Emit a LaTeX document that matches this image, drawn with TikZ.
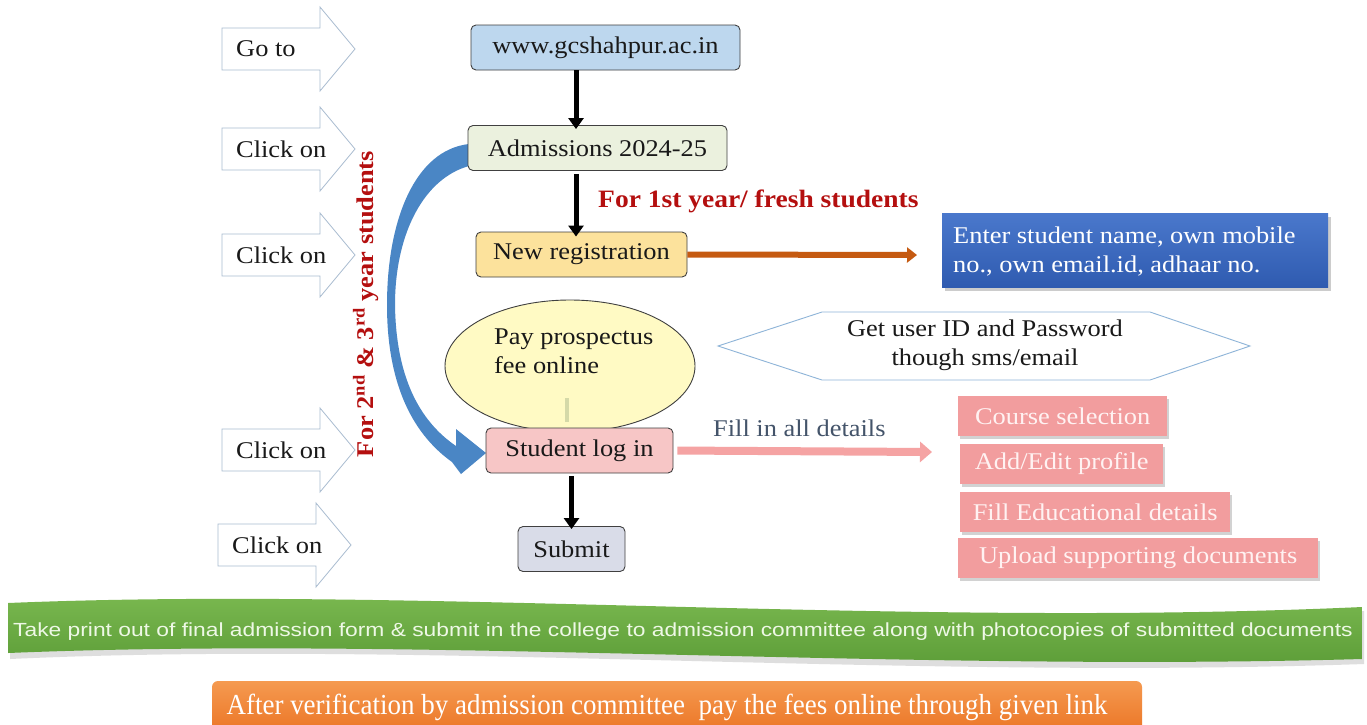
\documentclass[tikz,border=0pt]{standalone}
\usepackage{fontspec}
\setmainfont[FakeStretch=1.1]{Liberation Serif}
\newfontfamily\widesans[FakeStretch=1.2]{Liberation Sans}
\newfontfamily\narrowserif[FakeStretch=0.93]{Liberation Serif}
\usetikzlibrary{arrows.meta,shapes.geometric,shadows}
\definecolor{urlblue}{HTML}{BDD7EE}
\definecolor{admgreen}{HTML}{EBF1DE}
\definecolor{regorange}{HTML}{FCE29C}
\definecolor{elyellow}{HTML}{FFFAC4}
\definecolor{loginpink}{HTML}{F7C6C6}
\definecolor{submitgray}{HTML}{D9DCE8}
\definecolor{darkred}{HTML}{B40F0F}
\definecolor{arrorange}{HTML}{C55A11}
\definecolor{boxbluetop}{HTML}{4A78CC}
\definecolor{boxbluebot}{HTML}{2F5BB0}
\definecolor{hexline}{HTML}{8EB4D8}
\definecolor{filltext}{HTML}{44546A}
\definecolor{salmon}{HTML}{F5A3A3}
\definecolor{pinkbox}{HTML}{F29D9E}
\definecolor{pinktext}{HTML}{FFF2F2}
\definecolor{curveblue}{HTML}{4A86C5}
\definecolor{greentop}{HTML}{7DBB52}
\definecolor{greenbot}{HTML}{5A9B36}
\definecolor{greentext}{HTML}{EEF8E6}
\definecolor{orangetop}{HTML}{F59A50}
\definecolor{orangebot}{HTML}{EA7020}
\definecolor{navline}{HTML}{A9BCD0}
\definecolor{faintbar}{HTML}{D5D9A8}
\tikzset{
  base/.style={font=\fontsize{24}{29}\selectfont, text=black!90},
  mainbox/.style={base, draw=black!75, rounded corners=5pt, line width=0.9pt, inner sep=0pt, minimum height=45pt},
  navarrow/.style={draw=navline, line width=0.8pt, fill=white},
  navtext/.style={base, inner sep=0pt},
  blackarrow/.style={line width=5pt, -{Triangle[length=11pt,width=15pt]}},
  orangearrow/.style={draw=arrorange, line width=6pt, -{Triangle[length=10pt,width=15pt]}},
  pinkarrow/.style={draw=salmon, line width=8pt, -{Triangle[length=12pt,width=20pt]}},
  pinkitem/.style={base, text=pinktext, fill=pinkbox, inner sep=0pt, minimum height=40pt, anchor=west,
    drop shadow={opacity=0.35, shadow xshift=2pt, shadow yshift=-3pt}},
  redlabel/.style={font=\bfseries\fontsize{24}{29}\selectfont, text=darkred, inner sep=0pt}
}
\newcommand{\navblock}[4]{%
  \draw[navarrow] (#2,#3-21) -- (#2+98,#3-21) -- (#2+98,#3-42) -- (#2+133,#3) -- (#2+98,#3+42) -- (#2+98,#3+21) -- (#2,#3+21) -- cycle;
  \node[navtext, anchor=west] (#1) at (#2+14,#3) {#4};}
\begin{document}
\begin{tikzpicture}[x=1pt, y=-1pt]
\useasboundingbox (0,0) rectangle (1367,724);
\fill[white] (0,0) rectangle (1367,724);

% left navigation arrows
\navblock{goto}{222}{49}{Go to}
\navblock{click1}{222}{149}{Click on}
\navblock{click2}{222}{255}{Click on}
\navblock{click3}{222}{450}{Click on}
\navblock{click4}{218}{545}{Click on}

% curved blue arrow
\fill[curveblue] (469,144) .. controls (415,150) and (387,220) .. (387,305)
  .. controls (387,380) and (410,432) .. (452,462) -- (461,474) -- (486,453) -- (456,429) -- (456,446)
  .. controls (418,420) and (396,375) .. (395,305)
  .. controls (395,232) and (425,178) .. (469,166) -- cycle;

% vertical label
\node[redlabel, rotate=90] (older) at (366,304) {For 2\textsuperscript{nd} \& 3\textsuperscript{rd} year students};

% main flow
\node[mainbox, fill=urlblue, minimum width=269pt] (url) at (605.5,47.5) {www.gcshahpur.ac.in};
\node[mainbox, fill=admgreen, minimum width=259pt] (adm) at (597.5,148) {Admissions 2024-25};
\node[mainbox, fill=regorange, minimum width=211pt] (newreg) at (581.5,254.5) {New registration};
\node[draw=black!75, line width=0.9pt, fill=elyellow, ellipse, minimum width=250pt, minimum height=132pt, inner sep=0pt] (pay) at (570,366) {};
\node[base, anchor=west, align=left, inner sep=0pt] (paytext) at (494,351) {Pay prospectus\\fee online};
\draw[faintbar, line width=4pt] (567,398) -- (567,422);
\node[mainbox, fill=loginpink, minimum width=187pt] (login) at (579.5,450.5) {Student log in};
\node[mainbox, fill=submitgray, minimum width=107pt] (submit) at (571.5,549) {Submit};

\coordinate (ax) at (576,0);
\draw[blackarrow] (url.south -| ax) -- ([yshift=-4pt]adm.north -| ax);
\draw[blackarrow] ([yshift=-3pt]adm.south -| ax) -- ([yshift=-5pt]newreg.north -| ax);
\draw[blackarrow] ([yshift=-3pt]login.south -| submit) -- ([yshift=-3pt]submit.north);

\node[redlabel, anchor=west, font=\bfseries\fontsize{25}{29}\selectfont] (fresh) at (598,201) {For 1st year/ fresh students};

% new registration branch
\coordinate (regend) at (917,255);
\draw[orangearrow] (newreg.east) -- (regend);
\node[base, text=white, anchor=north west, inner sep=0pt, minimum width=386pt, minimum height=74pt,
  top color=boxbluetop, bottom color=boxbluebot, drop shadow={opacity=0.4, shadow xshift=3pt, shadow yshift=-4pt}] (enter) at (942,213) {};
\node[base, text=white, anchor=west, align=left, inner sep=0pt] (entertext) at (953,252) {Enter student name, own mobile\\no., own email.id, adhaar no.};

% hexagon
\draw[hexline, line width=0.9pt] (718,346) -- (822,312) -- (1150,312) -- (1250,346) -- (1150,380) -- (822,380) -- cycle;
\node[base, align=center, inner sep=0pt] (getid) at (985,345) {Get user ID and Password\\though sms/email};

% login branch
\node[base, text=filltext, anchor=west, inner sep=0pt] (fill) at (713,428) {Fill in all details};
\coordinate (loginend) at (932,452);
\draw[pinkarrow, shorten <=4pt] (login.east) -- (loginend);
\node[pinkitem, minimum width=209pt] (course) at (958,416) {Course selection};
\node[pinkitem, minimum width=203pt] (profile) at (960,464) {Add/Edit profile};
\node[pinkitem, minimum width=270pt] (edu) at (960,512) {Fill Educational details};
\node[pinkitem, minimum width=360pt] (upload) at (958,558) {Upload supporting documents};

% green banner
\fill[black!25, opacity=0.5] (10,606) .. controls (420,588) and (900,632) .. (1364,611)
  -- (1364,664) .. controls (900,680) and (420,640) .. (10,659) -- cycle;
\shade[top color=greentop, bottom color=greenbot] (8,603) .. controls (420,586) and (900,628) .. (1362,607)
  -- (1362,659) .. controls (900,672) and (420,636) .. (8,653) -- cycle;
\node[font=\widesans\fontsize{19}{23}\selectfont, text=greentext, inner sep=0pt] (print) at (683,632) {Take print out of final admission form \& submit in the college to admission committee along with photocopies of submitted documents};

% orange bar
\begin{scope}
\clip (0,0) rectangle (1367,724);
\shade[top color=orangetop, bottom color=orangebot, rounded corners=6pt] (212,681) rectangle (1142,740);
\end{scope}
\node[font=\narrowserif\fontsize{29}{33}\selectfont, text=white, inner sep=0pt] (fees) at (667,707) {After verification by admission committee\ \ pay the fees online through given link};
\end{tikzpicture}
\end{document}
